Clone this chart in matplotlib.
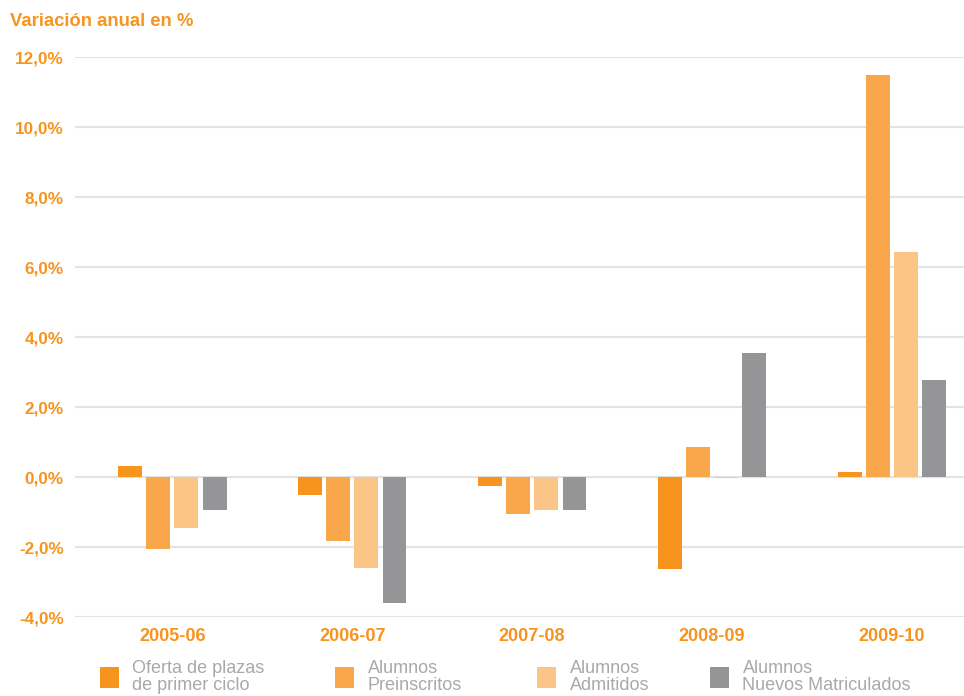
import matplotlib
matplotlib.use("Agg")
import matplotlib.pyplot as plt
import numpy as np

categories = ["2005-06", "2006-07", "2007-08", "2008-09", "2009-10"]
oferta = [0.31, -0.50, -0.25, -2.64, 0.15]
preinscritos = [-2.07, -1.84, -1.07, 0.85, 11.48]
admitidos = [-1.47, -2.61, -0.93, -0.03, 6.42]
matriculados = [-0.93, -3.61, -0.93, 3.53, 2.76]
series_labels = ["Oferta de plazas\nde primer ciclo", "Alumnos\nPreinscritos",
                 "Alumnos\nAdmitidos", "Alumnos\nNuevos Matriculados"]
yticks = [-4, -2, 0, 2, 4, 6, 8, 10, 12]
ytick_labels = ["-4,0%", "-2,0%", "0,0%", "2,0%", "4,0%", "6,0%", "8,0%", "10,0%", "12,0%"]

colors = ["#F7941E", "#F9A74A", "#FBC588", "#959598"]
orange = "#F7941E"
legend_gray = "#A7A9AC"
fam = ["Liberation Sans", "DejaVu Sans"]

fig = plt.figure(figsize=(9.64, 6.96), dpi=100)
ax = fig.add_axes([75/964, 1-617/696, 1-75/964, (617-57)/696])

x = np.arange(len(categories))
width = 0.133
step = 0.157
all_series = [oferta, preinscritos, admitidos, matriculados]
bars = []
for i, (vals, c) in enumerate(zip(all_series, colors)):
    b = ax.bar(x + (i - 1.5) * step, vals, width, color=c, zorder=3, linewidth=0)
    bars.append(b)

ax.set_ylim(-4, 12)
ax.set_xlim(-0.54, 4.40)
ax.set_yticks(yticks)
ax.set_yticklabels(ytick_labels)
ax.set_xticks(x)
ax.set_xticklabels(categories)
ax.yaxis.grid(True, color="#E3E3E3", linewidth=1.5, zorder=0)
ax.set_axisbelow(True)
for s in ax.spines.values():
    s.set_visible(False)
ax.tick_params(axis="both", length=0)
ax.tick_params(axis="y", pad=8)
ax.tick_params(axis="x", pad=8)
for lab in ax.get_yticklabels():
    lab.set_color(orange)
    lab.set_fontweight("bold")
    lab.set_fontsize(12.3)
    lab.set_family(fam)
for lab in ax.get_xticklabels():
    lab.set_color(orange)
    lab.set_fontweight("bold")
    lab.set_fontsize(13)
    lab.set_family(fam)

fig.text(10/964, 1-22/696, "Variación anual en %", color=orange, fontsize=13.3,
         fontweight="bold", family=fam, va="center", ha="left")

leg_x = [100, 335, 537, 710]
for i in range(4):
    leg = fig.legend(handles=[bars[i]], labels=[series_labels[i]], loc="center left",
                     bbox_to_anchor=(leg_x[i]/964, 1-677/696), frameon=False,
                     handlelength=1.05, handleheight=1.35, handletextpad=0.75,
                     borderaxespad=0, borderpad=0,
                     prop={"family": fam, "size": 13})
    for t in leg.get_texts():
        t.set_color(legend_gray)
        t.set_linespacing(0.95)

fig.savefig("out.png", dpi=100)
